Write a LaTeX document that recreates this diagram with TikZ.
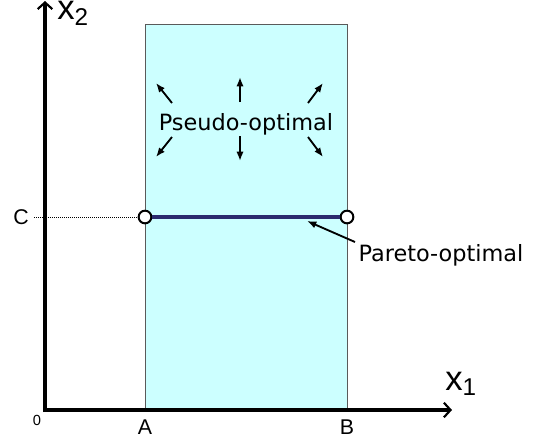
\documentclass[tikz,border=0pt]{standalone}
\usepackage{fontspec}
\setmainfont{DejaVu Sans}
\newfontfamily\arialfont{Liberation Sans}
\usepackage{xcolor}
\usetikzlibrary{arrows.meta, positioning, calc}
\definecolor{regioncyan}{HTML}{CCFFFF}
\definecolor{regionedge}{HTML}{5A5A5A}
\definecolor{paretonavy}{HTML}{2A2A6E}

\begin{document}
\begin{tikzpicture}[x=0.75pt, y=-0.75pt,
        axis/.style={-{Straight Barb[length=5pt,width=11pt,line width=1.6pt]}, line width=2.8pt},
        arr/.style={-{Latex[length=7pt,width=5.5pt]}, line width=1.4pt},
        ticklbl/.style={font=\arialfont\fontsize{16}{18}\selectfont, inner sep=1pt},
        bigvar/.style={font=\arialfont\fontsize{26}{28}\selectfont, inner sep=0pt},
        lbl/.style={font=\fontsize{16.8}{20}\selectfont, inner sep=1pt},
        endpt/.style={circle, draw=black, fill=white, line width=1.5pt, minimum size=9.5pt, inner sep=0pt}]
        \useasboundingbox (0,0) rectangle (537,440);
        % feasible region
        \filldraw[fill=regioncyan, draw=regionedge, line width=0.7pt] (145,24) rectangle (347,410);
        % axes
        \draw[axis] (45,412) -- (45,1);
        \draw[axis] (43,410) -- (452,410);
        \node[bigvar, anchor=north west] (xtwo) at (57,1) {x\textsubscript{2}};
        \node[bigvar] (xone) at (461,384) {x\textsubscript{1}};
        \node[font=\arialfont\fontsize{11}{12}\selectfont] (zero) at (37,420) {0};
        \node[ticklbl] (A) at (145,427) {A};
        \node[ticklbl] (B) at (347,427) {B};
        \node[ticklbl] (C) at (21,217) {C};
        % Pareto front
        \node[endpt] (pl) at (145,217) {};
        \node[endpt] (pr) at (347,217) {};
        \draw[densely dotted, line width=0.5pt] (C.east) ++(3pt,0) -- (pl.west);
        \draw[paretonavy, line width=2.4pt] (pl.east) -- (pr.west);
        \node[lbl, anchor=west] (pareto) at (357,255) {Pareto-optimal};
        \coordinate (ptarget) at (307,221);
        \draw[arr] (355,242) -- (ptarget);
        % pseudo-optimal region
        \node[lbl] (pseudo) at (246,124) {Pseudo-optimal};
        \draw[arr] (240,102) -- (240,77);
        \draw[arr] (240,136) -- (240,161);
        \draw[arr] (172,103) -- (156,83);
        \draw[arr] (308,103) -- (323,83);
        \draw[arr] (172,137) -- (156,157);
        \draw[arr] (308,137) -- (323,157);
      \end{tikzpicture}
\end{document}
